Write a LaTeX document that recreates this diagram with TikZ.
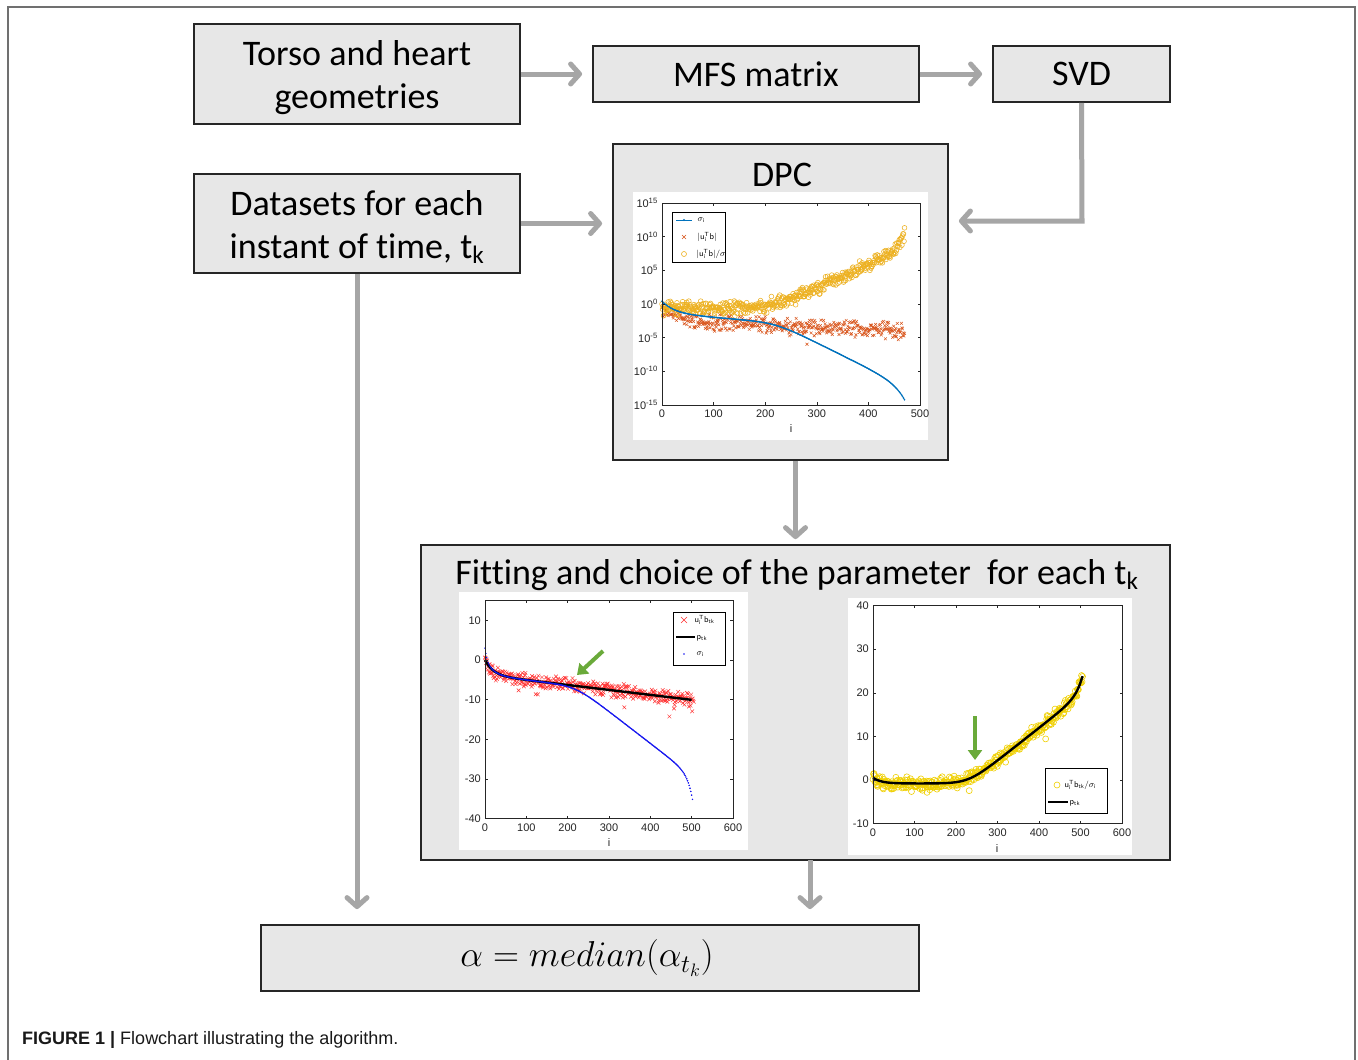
\RequirePackage{fix-cm}
\documentclass[tikz,border=0pt]{standalone}
\usepackage{fontspec}
\setmainfont{Carlito}[Ligatures=NoCommon]
\newfontfamily\capfont{Liberation Sans}
\usetikzlibrary{arrows.meta,plotmarks}

\definecolor{boxfill}{HTML}{E7E7E7}
\definecolor{boxline}{HTML}{262626}
\definecolor{flowgrey}{HTML}{A6A6A6}
\definecolor{framegrey}{HTML}{707070}
\definecolor{mblue}{HTML}{0072BD}
\definecolor{morange}{HTML}{D95319}
\definecolor{myellow}{HTML}{EDB120}
\definecolor{fitred}{HTML}{FF3030}
\definecolor{fitblue}{HTML}{1515F0}
\definecolor{fityellow}{HTML}{F0D000}
\definecolor{pointer}{HTML}{6AAA3A}
\definecolor{axisgrey}{HTML}{262626}

\tikzset{
  box/.style={draw=boxline, line width=1.8pt, fill=boxfill, align=center, inner sep=0pt,
    font=\fontsize{36}{43}\selectfont},
  boxtext/.style={align=center, inner sep=0pt, font=\fontsize{36}{43}\selectfont},
  boxtitle/.style={inner sep=0pt, font=\fontsize{36}{43}\selectfont},
  flow/.style={draw=flowgrey, line width=5pt, -{Straight Barb[length=9pt,width=20pt,round]}},
  axisbox/.style={draw=axisgrey, line width=0.5pt},
  ticklab/.style={font=\capfont\fontsize{11}{12}\selectfont, text=axisgrey, inner sep=1pt},
  legbox/.style={draw=black, line width=0.5pt, fill=white},
  legtext/.style={font=\capfont\fontsize{8.5}{9}\selectfont, anchor=west, inner sep=0.5pt},
  pointerarrow/.style={draw=pointer, line width=4pt, -{Triangle[length=10pt,width=14pt]}},
}

\begin{document}
\begin{tikzpicture}[x=1pt, y=-1pt,
  declare function={
    sp(\t)=max(\t,0)+20*ln(1+exp(max(-9,-abs(\t)/20)));
    dpcs(\t)=0.4-1.8*(1-exp(max(-9,-\t/25)))-0.006*\t-0.032*sp(\t-220)-2*exp(max(-9,(\t-470)/20));
    dpco(\t)=-0.2-2.3*(1-exp(max(-9,-\t/30)))-0.003*\t;
    fitp(\t)=-3.8*(1-exp(max(-9,-\t/20)))-0.0125*\t;
    fits(\t)=fitp(\t)+3*exp(max(-9,-\t/5))-0.068*sp(\t-220)-5*exp(max(-9,(\t-500)/12));
    fitq(\t)=1.3*exp(max(-9,-\t/20))-0.8+0.075*sp(\t-230)+4*exp(max(-9,(\t-505)/15));
  }]

% page and frame
\fill[white] (0,0) rectangle (1358,1060);
\useasboundingbox (0,0) rectangle (1358,1060);
\draw[framegrey, line width=2pt] (8,1060) -- (8,7) -- (1355,7) -- (1355,1060);

% flowchart boxes
\node[box, minimum width=326pt, minimum height=100pt] (torso) at (357,74) {};
\node[boxtext] (torsotext) at (357,78) {Torso and heart\\geometries};
\node[box, minimum width=326pt, minimum height=56pt] (mfs) at (756,74) {MFS matrix};
\node[box, minimum width=177pt, minimum height=56pt] (svd) at (1081.5,74) {SVD};
\node[box, minimum width=326pt, minimum height=99pt] (data) at (357,223.5) {};
\node[boxtext] (datatext) at (357,227) {Datasets for each\\instant of time, t\textsubscript{k}};
\node[box, minimum width=335pt, minimum height=316pt] (dpc) at (780.5,302) {};
\node[boxtitle, anchor=base] (dpctitle) at (782,186) {DPC};
\node[box, minimum width=749pt, minimum height=315pt] (fit) at (795.5,702.5) {};
\node[boxtitle, anchor=base] (fittitle) at (797,584) {Fitting and choice of the parameter\ \ for each t\textsubscript{k}};
\node[box, minimum width=658pt, minimum height=66pt] (median) at (590,958) {};
\node[boxtext] (mediantext) at (587,958) {$\alpha = median\bigl(\alpha_{t_k}\bigr)$};

% connectors
\draw[flow, shorten >=10pt] (torso.east) -- (mfs.west);
\draw[flow, shorten >=10pt] (mfs.east) -- (svd.west);
\coordinate (svdturn) at (1082,221);
\draw[flow, shorten >=10pt] (svd.south) -- (svdturn) -- (svdturn -| dpc.east);
\draw[flow, shorten >=10pt] (data.east) -- (data.east -| dpc.west);
\draw[flow, shorten >=15pt] (data.south) -- (data.south |- median.north);
\draw[flow, shorten >=5pt] (dpc.south -| fit.north) -- (fit.north);
\coordinate (fitout) at (810,860);
\draw[flow, shorten >=15pt] (fitout) -- (fitout |- median.north);

% plot canvases
\fill[white] (633,192) rectangle (928,440);
\fill[white] (459,592) rectangle (748,850);
\fill[white] (848,598) rectangle (1132,855);

% ---- DPC plot (log scale, exponents plotted linearly)
\begin{scope}[shift={(662,304)}, x=0.516pt, y=6.733pt]
  \pgfmathsetseed{11}
  \draw[morange, line width=0.45pt, only marks, mark=x, mark size=2pt]
    plot[domain=0:470, samples=471] (\x, {dpco(\x)+0.7*(rand+rand)-(rnd<0.03)*2*rnd});
  \draw[myellow, line width=0.55pt, only marks, mark=o, mark size=2.4pt]
    plot[domain=0:470, samples=471] (\x, {dpco(\x)-dpcs(\x)+0.65*(rand+rand)});
  \draw[mblue, line width=0.8pt] plot[smooth, domain=0:470, samples=80] (\x, {dpcs(\x)});
  \draw[mblue, only marks, mark=*, mark size=0.6pt] plot[domain=0:470, samples=236] (\x, {dpcs(\x)});
  \draw[axisbox] (0,-15) rectangle (500,15);
  \foreach \v in {0,100,...,500} {
    \draw[axisbox] (\v,-15) -- ++(0,2.5pt) (\v,15) -- ++(0,-2.5pt);
    \node[ticklab, anchor=north, yshift=-4pt] (dpcx\v) at (\v,-15) {\v};
  }
  \foreach \v in {-15,-10,...,15} {
    \draw[axisbox] (0,\v) -- ++(2.5pt,0) (500,\v) -- ++(-2.5pt,0);
    \node[ticklab, anchor=east, xshift=-3pt] (dpcy\v) at (0,\v) {10\textsuperscript{\v}};
  }
\end{scope}
\node[ticklab] (dpcxlabel) at (791,429) {i};
\draw[legbox] (672,212) rectangle (725,262);
\draw[mblue, line width=0.6pt] (676,220) -- (692,220);
\fill[mblue] (684,220) circle (1.1);
\node[legtext] (dpcleg1) at (697,220) {$\sigma_{\mathsf{i}}$};
\draw[morange, line width=0.5pt] (682,235) -- (686,239) (682,239) -- (686,235);
\node[legtext] (dpcleg2) at (697,237) {$|\mathsf{u}_{\mathsf{i}}^{\mathsf{T}}\mathsf{b}|$};
\draw[myellow, line width=0.6pt] (684,254) circle (2.5);
\node[legtext] (dpcleg3) at (696,254) {$|\mathsf{u}_{\mathsf{i}}^{\mathsf{T}}\mathsf{b}|/\sigma_{\mathsf{i}}$};

% ---- fitting of u^T b
\begin{scope}[shift={(485,660)}, x=0.4133pt, y=3.964pt]
  \pgfmathsetseed{23}
  \draw[fitred, line width=0.45pt, only marks, mark=x, mark size=2.6pt]
    plot[domain=0:505, samples=404] (\x, {fitp(\x)+1.0*(rand+rand)-(rnd<0.05)*3.5*rnd});
  \draw[black, line width=2.4pt] plot[smooth, domain=0:500, samples=60] (\x, {fitp(\x)});
  \draw[fitblue, only marks, mark=*, mark size=0.55pt] plot[domain=0:502, samples=252] (\x, {fits(\x)});
  \draw[axisbox] (0,-40) rectangle (600,15);
  \foreach \v in {0,100,...,600} {
    \draw[axisbox] (\v,-40) -- ++(0,2.5pt) (\v,15) -- ++(0,-2.5pt);
    \node[ticklab, anchor=north, yshift=-4pt] (lx\v) at (\v,-40) {\v};
  }
  \foreach \v in {-40,-30,...,10} {
    \draw[axisbox] (0,\v) -- ++(2.5pt,0) (600,\v) -- ++(-2.5pt,0);
    \node[ticklab, anchor=east, xshift=-3pt] (ly\v) at (0,\v) {\v};
  }
\end{scope}
\node[ticklab] (lxlabel) at (609,843) {i};
\draw[legbox] (673,612) rectangle (725,665);
\draw[fitred, line width=0.5pt] (681,617) -- (687,623) (681,623) -- (687,617);
\node[legtext] (lleg1) at (694,620) {$\mathsf{u}_{\mathsf{i}}^{\mathsf{T}}\mathsf{b}_{\mathsf{tk}}$};
\draw[black, line width=2.2pt] (676,637) -- (695,637);
\node[legtext] (lleg2) at (696,638) {$\mathsf{p}_{\mathsf{tk}}$};
\fill[fitblue] (684,654) circle (0.8);
\node[legtext] (lleg3) at (696,654) {$\sigma_{\mathsf{i}}$};

% ---- fitting of u^T b / sigma
\begin{scope}[shift={(873,780)}, x=0.415pt, y=4.36pt]
  \pgfmathsetseed{37}
  \draw[fityellow, line width=0.6pt, only marks, mark=o, mark size=3pt]
    plot[domain=0:505, samples=404] (\x, {fitq(\x)+0.85*(rand+rand)-(rnd<0.05)*3*rnd});
  \draw[black, line width=2.4pt] plot[smooth, domain=0:505, samples=60] (\x, {fitq(\x)});
  \draw[axisbox] (0,-10) rectangle (600,40);
  \foreach \v in {0,100,...,600} {
    \draw[axisbox] (\v,-10) -- ++(0,2.5pt) (\v,40) -- ++(0,-2.5pt);
    \node[ticklab, anchor=north, yshift=-4pt] (rx\v) at (\v,-10) {\v};
  }
  \foreach \v in {-10,0,...,40} {
    \draw[axisbox] (0,\v) -- ++(2.5pt,0) (600,\v) -- ++(-2.5pt,0);
    \node[ticklab, anchor=east, xshift=-3pt] (ry\v) at (0,\v) {\v};
  }
\end{scope}
\node[ticklab] (rxlabel) at (997,849) {i};
\draw[legbox] (1045,768) rectangle (1107,813);
\draw[fityellow, line width=0.6pt] (1057,785) circle (3);
\node[legtext] (rleg1) at (1064,785) {$\mathsf{u}_{\mathsf{i}}^{\mathsf{T}}\mathsf{b}_{\mathsf{tk}}/\sigma_{\mathsf{i}}$};
\draw[black, line width=2.2pt] (1048,802) -- (1068,802);
\node[legtext] (rleg2) at (1069,803) {$\mathsf{p}_{\mathsf{tk}}$};

% pointers to the chosen parameter
\draw[pointerarrow] (603,651) -- (577,675);
\draw[pointerarrow] (975,716) -- (975,760);

% caption
\node[anchor=west, inner sep=0pt, font=\capfont\fontsize{18}{22}\selectfont, text=black!90] (caption) at (22,1040)
  {\textbf{FIGURE 1 |} Flowchart illustrating the algorithm.};
\end{tikzpicture}
\end{document}
